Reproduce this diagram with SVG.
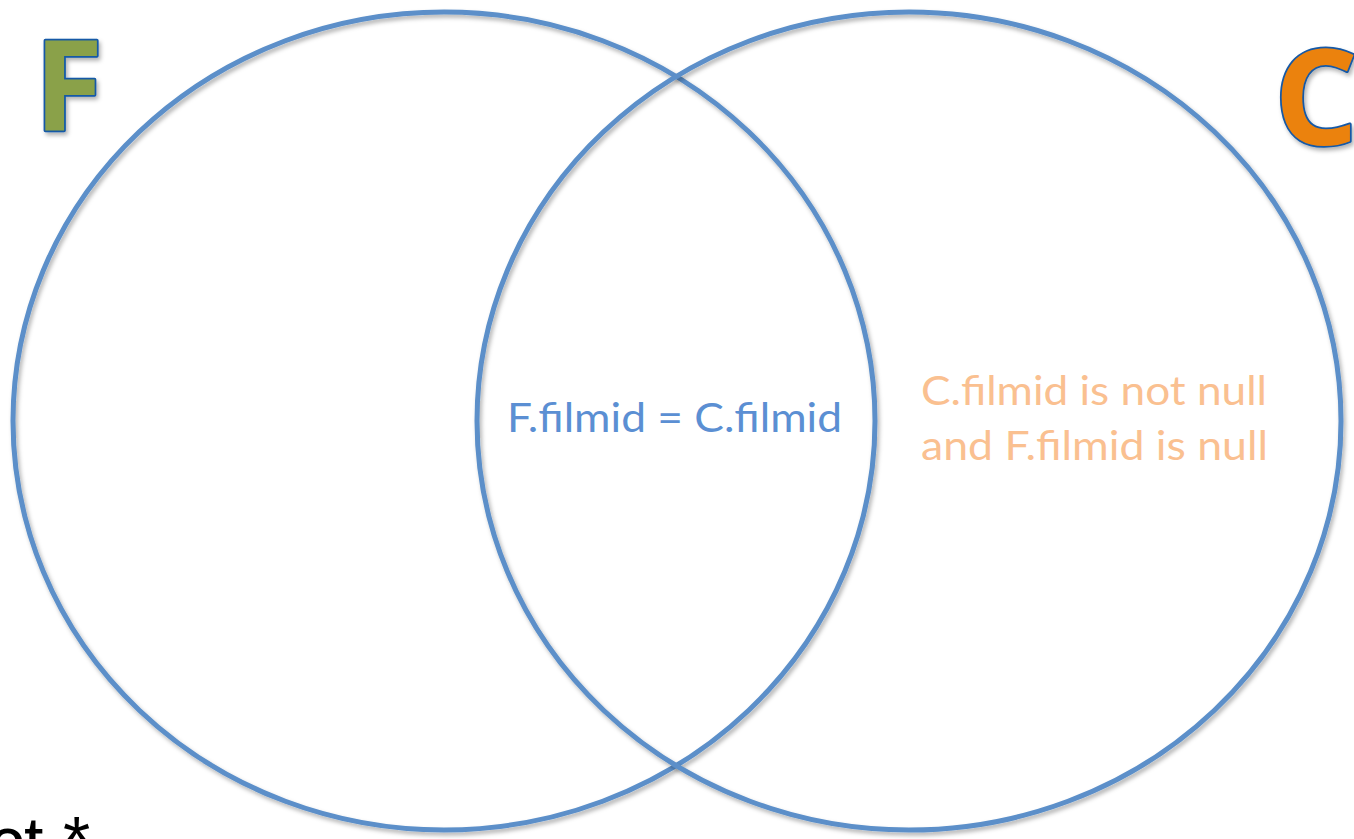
<svg xmlns="http://www.w3.org/2000/svg" width="1354" height="839" viewBox="0 0 1354 839">
<defs>
<filter id="sh" x="-10%" y="-10%" width="120%" height="120%">
<feDropShadow dx="2" dy="3" stdDeviation="2" flood-color="#000" flood-opacity="0.3"/>
</filter>
<style>
.circ{fill:none;stroke:#5b8fc9;stroke-width:5;filter:url(#sh)}
.big{font-family:"Open Sans","Liberation Sans",sans-serif;font-weight:bold;stroke:#1459a6;stroke-width:3.5;stroke-linejoin:round;paint-order:stroke;filter:url(#sh)}
.lbl{font-family:Lato,"Open Sans",sans-serif;font-size:40px}
</style>
</defs>
<rect width="1354" height="839" fill="#fff"/>
<g id="circleF"><ellipse class="circ" cx="444" cy="421" rx="431" ry="409"/></g>
<g id="circleC"><ellipse class="circ" cx="909" cy="421" rx="432" ry="409"/></g>
<g id="labelF"><text class="big" x="34" y="131" font-size="126" fill="#8aa14a">F</text></g>
<g id="labelC"><text class="big" x="1274" y="145" font-size="132" fill="#eb8210">C</text></g>
<g id="intersection"><text class="lbl" x="507" y="432" fill="#5b8fd3" textLength="335" lengthAdjust="spacingAndGlyphs">F.filmid = C.filmid</text></g>
<g id="rightonly">
<text class="lbl" x="921" y="405" fill="#fac090" textLength="346" lengthAdjust="spacingAndGlyphs">C.filmid is not null</text>
<text class="lbl" x="921" y="460" fill="#fac090" textLength="347" lengthAdjust="spacingAndGlyphs">and F.filmid is null</text>
</g>
<g id="connectors"></g>
<text x="-11" y="866" font-family="Liberation Sans, Arial, sans-serif" font-size="70" fill="#000">ct *</text>
</svg>
